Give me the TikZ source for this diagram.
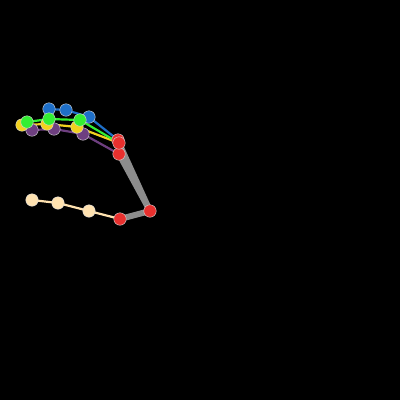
\documentclass[tikz,border=0pt]{standalone}
\begin{document}
\begin{tikzpicture}[x=1pt,y=-1pt,
  jt/.style={circle,draw=white!85!black,line width=0.4pt,minimum size=12.5pt,inner sep=0pt},
  bone/.style={line width=2.2pt},
  palm/.style={line width=6pt,draw=cgray}]
\definecolor{cblue}{HTML}{1E6FC8}
\definecolor{cgreen}{HTML}{33EE33}
\definecolor{cyel}{HTML}{F2D21E}
\definecolor{cpur}{HTML}{6E3F80}
\definecolor{cred}{HTML}{E8302E}
\definecolor{ccream}{HTML}{FFE2B0}
\definecolor{cgray}{HTML}{8C8C8C}
\fill[black] (0,0) rectangle (400,400);
\useasboundingbox (0,0) rectangle (400,400);
% joint positions
\coordinate (w) at (150,211);
\coordinate (t0) at (120,219);
\coordinate (r1) at (118,140);
\coordinate (r2) at (119,143);
\coordinate (r3) at (119,154);
\coordinate (t1) at (89,211);
\coordinate (t2) at (58,203);
\coordinate (t3) at (32,200);
\coordinate (b1) at (89,117);
\coordinate (b2) at (66,110);
\coordinate (b3) at (49,109);
\coordinate (p1) at (83,134);
\coordinate (p2) at (54,129);
\coordinate (p3) at (32,130);
\coordinate (y1) at (77,127);
\coordinate (y2) at (47,124);
\coordinate (y3) at (22,125);
\coordinate (g1) at (80,120);
\coordinate (g2) at (49,119);
\coordinate (g3) at (27,122);
% palm
\draw[palm] (w) -- (r3);
\draw[palm] (w) -- (r2);
\draw[palm] (w) -- (t0);
% fingers
\draw[bone,ccream] (t0) -- (t1) -- (t2) -- (t3);
\draw[bone,cpur] (r3) -- (p1) -- (p2) -- (p3);
\draw[bone,cyel] (r2) -- (y1) -- (y2) -- (y3);
\draw[bone,cgreen] (r2) -- (g1) -- (g2) -- (g3);
\draw[bone,cblue] (r1) -- (b1) -- (b2) -- (b3);
% joints
\node[jt,fill=ccream] at (t1) {};
\node[jt,fill=ccream] at (t2) {};
\node[jt,fill=ccream] at (t3) {};
\node[jt,fill=cblue] at (b1) {};
\node[jt,fill=cblue] at (b2) {};
\node[jt,fill=cblue] at (b3) {};
\node[jt,fill=cpur] at (p1) {};
\node[jt,fill=cpur] at (p2) {};
\node[jt,fill=cpur] at (p3) {};
\node[jt,fill=cyel] at (y1) {};
\node[jt,fill=cyel] at (y2) {};
\node[jt,fill=cyel] at (y3) {};
\node[jt,fill=cgreen] at (g1) {};
\node[jt,fill=cgreen] at (g2) {};
\node[jt,fill=cgreen] at (g3) {};
\node[jt,fill=cred] at (w) {};
\node[jt,fill=cred] at (t0) {};
\node[jt,fill=cred] at (r3) {};
\node[jt,fill=cred] at (r1) {};
\node[jt,fill=cred] at (r2) {};
\end{tikzpicture}
\end{document}
